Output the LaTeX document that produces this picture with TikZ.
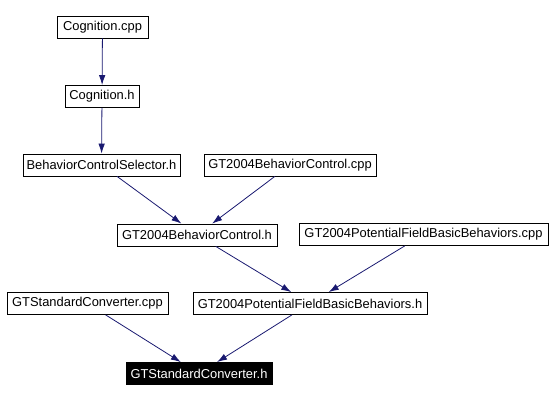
\documentclass[tikz,border=0pt]{standalone}
\usepackage{fontspec}
\setmainfont{Liberation Sans}
\usepackage{xcolor}
\usepackage{tikz}
\usetikzlibrary{arrows.meta,positioning}

\definecolor{edgeblue}{HTML}{191970}

\begin{document}
\begin{tikzpicture}[
  x=1pt, y=1pt,
  file/.style={draw, line width=0.8pt, inner sep=0pt, minimum height=22pt, font=\fontsize{12.9}{14}\selectfont},
  focus/.style={file, fill=black, text=white},
  inc/.style={-{Latex[length=10pt,width=6.5pt]}, edgeblue, line width=0.8pt}
]
\useasboundingbox (0,0) rectangle (552,-401);
% files, top to bottom
\node[file, minimum width=91pt] (cogcpp) at (102.5,-27) {Cognition.cpp};
\node[file, minimum width=74pt] (cogh) at (102,-96.5) {Cognition.h};
\node[file, minimum width=157pt] (bcsel) at (101.5,-165) {BehaviorControlSelector.h};
\node[file, minimum width=172pt] (gbccpp) at (290,-165) {GT2004BehaviorControl.cpp};
\node[file, minimum width=160pt] (gbch) at (197,-235) {GT2004BehaviorControl.h};
\node[file, minimum width=249pt] (gpfcpp) at (423.5,-234.5) {GT2004PotentialFieldBasicBehaviors.cpp};
\node[file, minimum width=161pt] (gscpp) at (87.5,-303.5) {GTStandardConverter.cpp};
\node[file, minimum width=234pt] (gpfh) at (310,-303.5) {GT2004PotentialFieldBasicBehaviors.h};
\node[focus, minimum width=146pt] (gsh) at (199,-373.5) {GTStandardConverter.h};
% includes
\draw[inc] (cogcpp) -- (cogh);
\draw[inc] (cogh) -- (bcsel);
\draw[inc] (bcsel) -- (gbch);
\draw[inc] (gbccpp) -- (gbch);
\draw[inc] (gbch) -- (gpfh);
\draw[inc] (gpfcpp) -- (gpfh);
\draw[inc] (gscpp) -- (gsh);
\draw[inc] (gpfh) -- (gsh);
\end{tikzpicture}
\end{document}
